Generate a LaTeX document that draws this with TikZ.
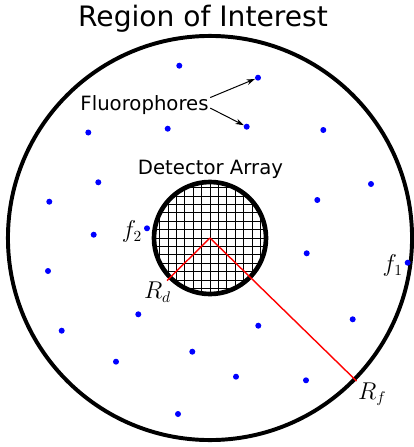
\documentclass[tikz,border=0pt]{standalone}
\usepackage{fontspec}
\setmainfont{DejaVu Sans}
\usetikzlibrary{positioning,arrows.meta,calc}
\tikzset{
  fluo/.style={circle,fill=blue,inner sep=0pt,minimum size=0.15cm},
  txt/.style={font=\fontsize{14}{16}\selectfont,inner sep=1pt},
  mlab/.style={font=\fontsize{16}{18}\selectfont,inner sep=1pt},
  ring/.style={draw=black,line width=2.8pt},
  detring/.style={draw=black,line width=3.3pt},
  gridline/.style={draw=black,line width=0.6pt},
  rline/.style={draw=red,line width=1pt},
  ptr/.style={-{Stealth[length=6pt,width=4pt]},line width=0.7pt},
}

\begin{document}
\begin{tikzpicture}[x=0.025cm,y=-0.025cm]
  \useasboundingbox (0,0) rectangle (414,447);
  \coordinate (c) at (210,238);

  % region and detector
  \draw[ring] (c) circle (5.05cm);
  \begin{scope}
    \clip (c) circle (1.4cm);
    \foreach \k in {-7,...,7} {
      \draw[gridline] ($(c)+(\k*8.4,-60)$) -- ($(c)+(\k*8.4,60)$);
      \draw[gridline] ($(c)+(-60,\k*8.4)$) -- ($(c)+(60,\k*8.4)$);
    }
  \end{scope}
  \draw[detring] (c) circle (1.4cm);

  % radii
  \coordinate (rd) at (167,280.5);
  \coordinate (rf) at (356.5,381);
  \draw[rline] (c) -- (rd);
  \draw[rline] (c) -- (rf);
  \node[mlab,anchor=north east] at ([xshift=4pt]rd) {$R_d$};
  \node[mlab,anchor=north west] at (rf) {$R_f$};

  % fluorophores
  \node[fluo] (d1) at (179.3,65.7) {};
  \node[fluo] (d2) at (258,77.7) {};
  \node[fluo] (d3) at (88.3,132.5) {};
  \node[fluo] (d4) at (167.7,128.7) {};
  \node[fluo] (d5) at (246.7,126.7) {};
  \node[fluo] (d6) at (323.3,130) {};
  \node[fluo] (d7) at (98.3,182.3) {};
  \node[fluo] (d8) at (371,184) {};
  \node[fluo] (d9) at (49.3,201.7) {};
  \node[fluo] (d10) at (317.3,200) {};
  \node[fluo] (d11) at (93.7,234.7) {};
  \node[fluo] (f2) at (147,228.3) {};
  \node[fluo] (d13) at (306.7,253.3) {};
  \node[fluo] (d14) at (48,271) {};
  \node[fluo] (f1) at (407.7,262.7) {};
  \node[fluo] (d16) at (138.3,314.3) {};
  \node[fluo] (d17) at (258.3,325.7) {};
  \node[fluo] (d18) at (352.7,319.3) {};
  \node[fluo] (d19) at (61.7,330.7) {};
  \node[fluo] (d20) at (192.3,351.7) {};
  \node[fluo] (d21) at (116,361.7) {};
  \node[fluo] (d22) at (236,376.7) {};
  \node[fluo] (d23) at (306,380.3) {};
  \node[fluo] (d24) at (178,414) {};

  \node[mlab,left=0pt of f1,yshift=-2pt] {$f_1$};
  \node[mlab,left=0pt of f2,yshift=-2.5pt] {$f_2$};

  % labels
  \node[font=\fontsize{20}{24}\selectfont,anchor=base] (title) at (203,26) {Region of Interest};
  \node[txt,anchor=base] (fl) at (144.5,110) {Fluorophores};
  \node[txt,anchor=base] (det) at (210.5,174) {Detector Array};
  \draw[ptr] ([yshift=5pt]fl.east) -- (d2);
  \draw[ptr] ([yshift=-2.5pt]fl.east) -- (d5);
\end{tikzpicture}
\end{document}
